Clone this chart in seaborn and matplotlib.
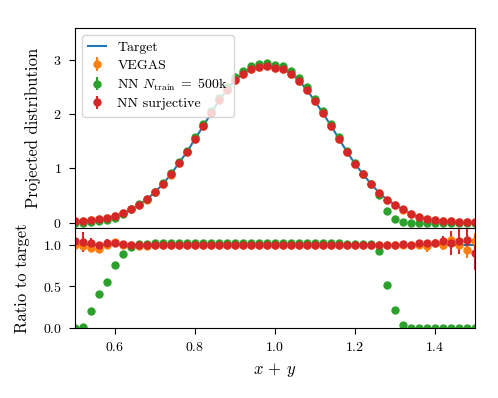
import numpy as np
import matplotlib
matplotlib.use("Agg")
import matplotlib.pyplot as plt
import seaborn as sns

plt.rcParams.update({
    "font.family": "serif",
    "font.serif": ["cmr10", "DejaVu Serif"],
    "mathtext.fontset": "cm",
    "axes.formatter.use_mathtext": True,
    "font.size": 10,
    "axes.labelsize": 12,
    "xtick.major.size": 4.5,
    "ytick.major.size": 4.5,
    "xtick.major.pad": 5,
    "ytick.major.pad": 5,
})

x = [0.50, 0.52, 0.54, 0.56, 0.58, 0.60, 0.62, 0.64, 0.66, 0.68,
     0.70, 0.72, 0.74, 0.76, 0.78, 0.80, 0.82, 0.84, 0.86, 0.88,
     0.90, 0.92, 0.94, 0.96, 0.98, 1.00, 1.02, 1.04, 1.06, 1.08,
     1.10, 1.12, 1.14, 1.16, 1.18, 1.20, 1.22, 1.24, 1.26, 1.28,
     1.30, 1.32, 1.34, 1.36, 1.38, 1.40, 1.42, 1.44, 1.46, 1.48, 1.50]

target = [0.02, 0.03, 0.045, 0.06, 0.09, 0.12, 0.17, 0.25, 0.33, 0.43,
          0.56, 0.71, 0.89, 1.10, 1.30, 1.54, 1.77, 2.01, 2.25, 2.44,
          2.62, 2.74, 2.83, 2.86, 2.88, 2.85, 2.82, 2.74, 2.61, 2.44,
          2.23, 2.01, 1.78, 1.54, 1.30, 1.08, 0.89, 0.71, 0.55, 0.42,
          0.33, 0.24, 0.16, 0.10, 0.06, 0.04, 0.03, 0.02, 0.012, 0.008, 0.005]

vegas_ratio = [1.00, 0.98, 0.96, 0.95, 1.00, 1.03, 1.00, 0.99, 0.98, 0.98,
               0.99, 1.00, 0.99, 1.00, 1.00, 1.00, 1.00, 1.00, 1.00, 1.00,
               1.00, 1.00, 1.00, 1.00, 1.00, 1.00, 1.00, 1.00, 1.00, 1.00,
               1.00, 1.00, 1.00, 1.00, 1.00, 1.00, 1.00, 1.00, 1.00, 1.00,
               1.00, 1.00, 1.00, 1.00, 0.98, 1.02, 1.00, 1.05, 1.00, 0.94, 1.04]
vegas_err = [0.06, 0.05, 0.04, 0.03, 0.04, 0.04, 0.02, 0.02, 0.01, 0.01,
             0.01, 0.01, 0.01, 0.01, 0.01, 0.01, 0.01, 0.01, 0.01, 0.01,
             0.01, 0.01, 0.01, 0.01, 0.01, 0.01, 0.01, 0.01, 0.01, 0.01,
             0.01, 0.01, 0.01, 0.01, 0.01, 0.01, 0.01, 0.01, 0.01, 0.01,
             0.01, 0.02, 0.02, 0.04, 0.07, 0.05, 0.07, 0.06, 0.08, 0.10, 0.10]

nn500k_ratio = [0.00, 0.01, 0.20, 0.41, 0.55, 0.75, 0.89, 0.97, 1.01, 1.01,
                1.02, 1.02, 1.02, 1.02, 1.02, 1.02, 1.02, 1.02, 1.02, 1.02,
                1.02, 1.02, 1.02, 1.02, 1.02, 1.02, 1.02, 1.02, 1.02, 1.02,
                1.02, 1.02, 1.02, 1.02, 1.01, 1.01, 1.01, 1.01, 0.92, 0.52,
                0.22, 0.03, 0.00, 0.00, 0.00, 0.00, 0.00, 0.00, 0.00, 0.00, 0.00]
nn500k_err = [0.005] * 51

surj_ratio = [1.04, 1.03, 1.02, 0.99, 1.02, 1.02, 1.01, 1.00, 1.00, 1.00,
              1.00, 1.00, 1.00, 1.00, 1.00, 1.00, 1.00, 1.00, 1.00, 1.00,
              1.00, 1.00, 1.00, 1.00, 1.00, 1.00, 1.00, 1.00, 1.00, 1.00,
              1.00, 1.00, 1.00, 1.00, 1.00, 1.00, 1.00, 1.00, 1.00, 1.00,
              1.00, 1.01, 1.00, 1.02, 1.02, 1.02, 1.04, 1.02, 1.04, 1.06, 0.90]
surj_err = [0.13, 0.12, 0.06, 0.03, 0.05, 0.05, 0.02, 0.01, 0.01, 0.01,
            0.01, 0.01, 0.01, 0.01, 0.01, 0.01, 0.01, 0.01, 0.01, 0.01,
            0.01, 0.01, 0.01, 0.01, 0.01, 0.01, 0.01, 0.01, 0.01, 0.01,
            0.01, 0.01, 0.01, 0.01, 0.01, 0.01, 0.01, 0.01, 0.01, 0.01,
            0.01, 0.02, 0.02, 0.03, 0.04, 0.05, 0.07, 0.14, 0.15, 0.17, 0.20]

series = [
    ("VEGAS", "tab:orange", vegas_ratio, vegas_err),
    (r"NN $N_{\mathrm{train}}\;=\;500$k", "tab:green", nn500k_ratio, nn500k_err),
    ("NN surjective", "tab:red", surj_ratio, surj_err),
]

xa = np.array(x)
ta = np.array(target)

fig, (ax1, ax2) = plt.subplots(2, 1, sharex=True, figsize=(4.98, 3.98), dpi=100,
                               gridspec_kw={"height_ratios": [2, 1], "hspace": 0})
fig.subplots_adjust(left=0.1506, right=0.954, top=0.9296, bottom=0.1759)

sns.lineplot(x=xa, y=ta, ax=ax1, color="tab:blue", lw=1.5, label="Target", legend=False)
sns.lineplot(x=xa, y=np.ones_like(ta), ax=ax2, color="tab:blue", lw=1.5, legend=False)

for label, color, ratio, err in series:
    r = np.array(ratio)
    e = np.array(err)
    ax1.errorbar(xa, r * ta, yerr=e * ta, fmt="o", ms=5, color=color, label=label)
    ax2.errorbar(xa, r, yerr=e, fmt="o", ms=5, color=color)

ax1.set_xlim(0.5, 1.5)
ax1.set_ylim(-0.1, 3.58)
ax1.set_yticks([0, 1, 2, 3])
ax1.set_ylabel("Projected distribution", labelpad=9)
ax1.tick_params(axis="x", bottom=False, labelbottom=False)
ax1.legend(loc="upper left", handlelength=1.3, labelspacing=0.35, borderpad=0.45)

ax2.set_ylim(0.0, 1.2)
ax2.set_yticks([0.0, 0.5, 1.0])
ax2.set_xticks([0.6, 0.8, 1.0, 1.2, 1.4])
ax2.set_ylabel("Ratio to target", labelpad=9)
ax2.set_xlabel(r"$x\,+\,y$", labelpad=5)

fig.savefig("out.png", dpi=100)
